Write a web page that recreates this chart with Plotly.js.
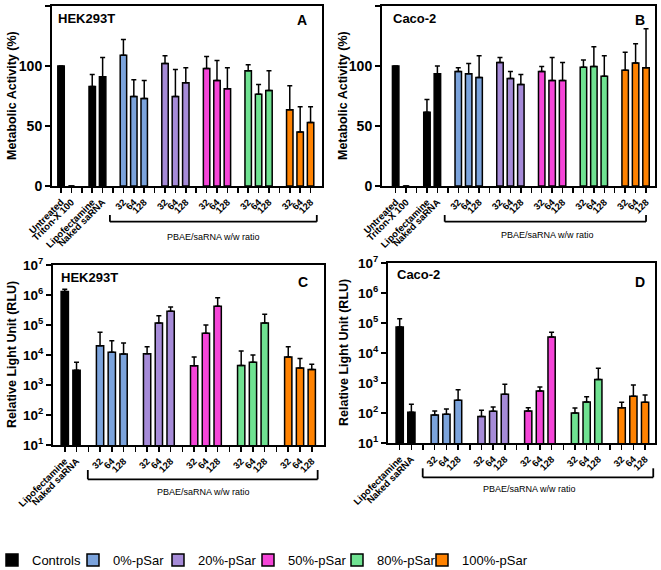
<!DOCTYPE html>
<html>
<head>
<meta charset="utf-8">
<script src="https://cdn.plot.ly/plotly-3.0.1.min.js"></script>
<style>html,body{margin:0;padding:0;background:#fff;}#chart{width:661px;height:570px;}</style>
</head>
<body>
<div id="chart"></div>
<script>
// ---------- data ----------
const groups = ["0%-pSar", "20%-pSar", "50%-pSar", "80%-pSar", "100%-pSar"];
const ratios = ["32", "64", "128"];
const ctrlLabelsAB = ["Untreated", "Triton-X 100", "Lipofectamine", "Naked saRNA"];
const ctrlLabelsCD = ["Lipofectamine", "Naked saRNA"];
const bracketLabel = "PBAE/saRNA w/w ratio";

// Panel A: HEK293T metabolic activity (%), mean and SD (upper bar)
const A_ctrl = [100, 0, 83, 91];
const A_ctrl_sd = [0, 0, 10, 16];
const A_0 = [109, 74.5, 73];     const A_0_sd = [13, 14, 15];
const A_20 = [102, 74.5, 86];    const A_20_sd = [6.5, 22.5, 12.5];
const A_50 = [98, 88, 81];       const A_50_sd = [10, 16.5, 17.5];
const A_80 = [96, 76.5, 79.5];   const A_80_sd = [5, 8, 16.5];
const A_100 = [63.5, 45, 53];    const A_100_sd = [20, 21, 13];

// Panel B: Caco-2 metabolic activity (%)
const B_ctrl = [100, 0, 61.5, 93.5];
const B_ctrl_sd = [0, 0, 10.5, 6.5];
const B_0 = [95.5, 93.5, 90.5];  const B_0_sd = [3, 8.5, 18];
const B_20 = [103, 89.5, 84.5];  const B_20_sd = [4, 6, 8.5];
const B_50 = [95.5, 88, 88];     const B_50_sd = [4, 19, 15];
const B_80 = [99, 99.5, 91.5];   const B_80_sd = [6, 16.5, 17];
const B_100 = [96.5, 102.5, 98.5]; const B_100_sd = [15, 16, 32.5];

// Panel C: HEK293T luciferase (RLU)
const C_ctrl = [1.3e6, 3.1e3];   const C_ctrl_sd = [2.5e5, 2.6e3];
const C_0 = [2.05e4, 1.23e4, 1.07e4]; const C_0_sd = [3.65e4, 1.77e4, 1.43e4];
const C_20 = [1.1e4, 1.17e5, 2.9e5];  const C_20_sd = [8e3, 8.8e4, 1.1e5];
const C_50 = [4.4e3, 5.3e4, 4.2e5];   const C_50_sd = [4.1e3, 4.7e4, 3.9e5];
const C_80 = [4.5e3, 5.7e3, 1.17e5];  const C_80_sd = [9e3, 4.3e3, 1.13e5];
const C_100 = [8.5e3, 3.7e3, 3.3e3];  const C_100_sd = [1.05e4, 4e3, 1.6e3];

// Panel D: Caco-2 luciferase (RLU)
const D_ctrl = [7.4e4, 105];     const D_ctrl_sd = [6.4e4, 90];
const D_0 = [86, 90, 265];       const D_0_sd = [31, 46, 335];
const D_20 = [77, 114, 420];     const D_20_sd = [46, 44, 480];
const D_50 = [117, 540, 3.4e4];  const D_50_sd = [33, 195, 1.5e4];
const D_80 = [100, 232, 1320];   const D_80_sd = [47, 118, 1780];
const D_100 = [150, 360, 227];   const D_100_sd = [77, 500, 173];

const logTickVals = [1e1, 1e2, 1e3, 1e4, 1e5, 1e6, 1e7];
const logTickText = ["10<sup>1</sup>", "10<sup>2</sup>", "10<sup>3</sup>", "10<sup>4</sup>", "10<sup>5</sup>", "10<sup>6</sup>", "10<sup>7</sup>"];

// ---------- style ----------
const colors = {
  "Controls": "#000000",
  "0%-pSar": "#7ba3dc",
  "20%-pSar": "#a68bd8",
  "50%-pSar": "#f545d8",
  "80%-pSar": "#6fe291",
  "100%-pSar": "#ff8200"
};
const legendNames = ["Controls"].concat(groups);
const legendLeftPx = [-8, 73, 158, 248, 337, 422];   // left of each legend entry
const FONT = "Liberation Sans, Arial, sans-serif";
const BARW = 0.62;

// category layout: controls (with a gap after "Triton-X 100" in A/B), then groups of 3 separated by gaps
function buildCats(ctrlLabels, gapAfterIndex) {
  const keys = [], text = [];
  ctrlLabels.forEach((c, i) => {
    keys.push("ctrl|" + c); text.push(c);
    if (i === gapAfterIndex) { keys.push("gap|c"); text.push(""); }
  });
  groups.forEach(g => {
    keys.push("gap|" + g); text.push("");
    ratios.forEach(r => { keys.push(g + "|" + r); text.push(r); });
  });
  return {keys, text};
}
const catsAB = buildCats(ctrlLabelsAB, 1);
const catsCD = buildCats(ctrlLabelsCD, -1);

const legendId = name => {
  const i = legendNames.indexOf(name);
  return i === 0 ? "legend" : "legend" + (i + 1);
};

function panelTraces(cats, xa, ya, ctrl, ctrlSd, ctrlLabels, grpVals, grpSds, showLegend) {
  const traces = [];
  const mk = (name, keys, y, sd) => ({
    type: "bar", name: name, legendgroup: name, showlegend: showLegend,
    legend: legendId(name),
    x: keys.map(k => cats.keys.indexOf(k)), y: y, width: BARW,
    xaxis: xa, yaxis: ya,
    marker: {color: colors[name], line: {color: "#000", width: 1.5}},
    error_y: {type: "data", symmetric: false, array: sd, arrayminus: sd.map(() => 0),
              color: "#000", thickness: 1.5, width: 2.5, visible: true},
    hoverinfo: "x+y"
  });
  traces.push(mk("Controls", ctrlLabels.map(c => "ctrl|" + c), ctrl, ctrlSd));
  groups.forEach((g, i) => traces.push(mk(g, ratios.map(r => g + "|" + r), grpVals[i], grpSds[i])));
  return traces;
}

const data = [].concat(
  panelTraces(catsAB, "x", "y", A_ctrl, A_ctrl_sd, ctrlLabelsAB,
    [A_0, A_20, A_50, A_80, A_100], [A_0_sd, A_20_sd, A_50_sd, A_80_sd, A_100_sd], true),
  panelTraces(catsAB, "x2", "y2", B_ctrl, B_ctrl_sd, ctrlLabelsAB,
    [B_0, B_20, B_50, B_80, B_100], [B_0_sd, B_20_sd, B_50_sd, B_80_sd, B_100_sd], false),
  panelTraces(catsCD, "x3", "y3", C_ctrl, C_ctrl_sd, ctrlLabelsCD,
    [C_0, C_20, C_50, C_80, C_100], [C_0_sd, C_20_sd, C_50_sd, C_80_sd, C_100_sd], false),
  panelTraces(catsCD, "x4", "y4", D_ctrl, D_ctrl_sd, ctrlLabelsCD,
    [D_0, D_20, D_50, D_80, D_100], [D_0_sd, D_20_sd, D_50_sd, D_80_sd, D_100_sd], false)
);

const W = 661, H = 570;
const px = v => v / W, py = v => (H - v) / H;

function xAxis(domain, range, cats, anchor) {
  const labelled = [], labels = [], gaps = [];
  cats.keys.forEach((k, i) => {
    if (cats.text[i] === "") gaps.push(i); else { labelled.push(i); labels.push(cats.text[i]); }
  });
  return {
    domain: domain, range: range, anchor: anchor, type: "linear",
    tickmode: "array", tickvals: labelled, ticktext: labels,
    tickangle: -45, ticks: "outside", ticklen: 5, tickwidth: 1.5, tickcolor: "#000",
    tickfont: {family: FONT, size: 9.5, color: "#000", weight: "bold"},
    minor: {tickmode: "array", tickvals: gaps, ticks: "outside", ticklen: 5, tickwidth: 1.5, tickcolor: "#000", showgrid: false},
    showline: true, linecolor: "#000", linewidth: 2, mirror: true,
    showgrid: false, zeroline: false, fixedrange: true
  };
}
function yLin(domain, anchor) {
  return {
    domain: domain, range: [0, 150], anchor: anchor, tickvals: [0, 50, 100, 150],
    ticks: "outside", ticklen: 5, tickwidth: 1.5, tickcolor: "#000",
    tickfont: {family: FONT, size: 14, color: "#000", weight: "bold"},
    showline: true, linecolor: "#000", linewidth: 2, mirror: true,
    showgrid: false, zeroline: false, fixedrange: true
  };
}
function yLog(domain, anchor) {
  return {
    domain: domain, type: "log", range: [1, 7], anchor: anchor,
    tickmode: "array", tickvals: logTickVals, ticktext: logTickText,
    ticks: "outside", ticklen: 5, tickwidth: 1.5, tickcolor: "#000",
    tickfont: {family: FONT, size: 13.5, color: "#000", weight: "bold"},
    showline: true, linecolor: "#000", linewidth: 2, mirror: true,
    showgrid: false, zeroline: false, fixedrange: true
  };
}

const ann = [];
const addText = (text, x, y, size, bold, xanchor, angle) => ann.push({
  text: text, x: px(x), y: py(y), xref: "paper", yref: "paper", showarrow: false,
  xanchor: xanchor || "center", yanchor: "middle", textangle: angle || 0,
  font: {family: FONT, size: size, color: "#000", weight: bold ? "bold" : "normal"}
});
addText("HEK293T", 56, 19, 13, true, "left");
addText("A", 302, 20, 14, true);
addText("Caco-2", 391, 19, 13, true, "left");
addText("B", 640, 20, 14, true);
addText("HEK293T", 59, 277, 13, true, "left");
addText("C", 303, 282, 14, true);
addText("Caco-2", 395, 275, 13, true, "left");
addText("D", 640, 282, 14, true);
addText("Metabolic Activity (%)", 12, 96, 12.5, true, "center", -90);
addText("Metabolic Activity (%)", 343, 96, 12.5, true, "center", -90);
addText("Relative Light Unit (RLU)", 12, 355, 12.5, true, "center", -90);
addText("Relative Light Unit (RLU)", 344, 353, 12.5, true, "center", -90);
addText(bracketLabel, 213, 237, 9, false);
addText(bracketLabel, 547, 235, 9, false);
addText(bracketLabel, 203, 492, 9, false);
addText(bracketLabel, 529, 489, 9, false);

const shapes = [];
function bracket(xref, x0, x1, yBar, yTop) {
  const ln = {color: "#000", width: 1.8};
  shapes.push({type: "line", xref: xref, yref: "paper", x0: x0, x1: x1, y0: py(yBar), y1: py(yBar), line: ln});
  shapes.push({type: "line", xref: xref, yref: "paper", x0: x0, x1: x0, y0: py(yBar), y1: py(yTop), line: ln});
  shapes.push({type: "line", xref: xref, yref: "paper", x0: x1, x1: x1, y0: py(yBar), y1: py(yTop), line: ln});
}
bracket("x", 4.7, 24.6, 221.7, 215);
bracket("x2", 4.7, 24.0, 221.7, 215);
bracket("x3", 1.96, 21.5, 479.3, 470);
bracket("x4", 1.97, 21.7, 477.3, 468.3);

const layout = {
  width: W, height: H,
  margin: {l: 0, r: 0, t: 0, b: 0, autoexpand: false},
  paper_bgcolor: "#fff", plot_bgcolor: "#fff",
  font: {family: FONT, color: "#000"},
  barmode: "overlay",
  xaxis: xAxis([px(52), px(322)], [-0.87, 25.1], catsAB, "y"),
  yaxis: yLin([py(186), py(6)], "x"),
  xaxis2: xAxis([px(382), px(655)], [-1.31, 24.86], catsAB, "y2"),
  yaxis2: yLin([py(186), py(6)], "x2"),
  xaxis3: xAxis([px(53), px(324)], [-1.0, 22.04], catsCD, "y3"),
  yaxis3: yLog([py(445), py(265)], "x3"),
  xaxis4: xAxis([px(388), px(655)], [-1.0, 21.85], catsCD, "y4"),
  yaxis4: yLog([py(443), py(263)], "x4"),
  showlegend: true,
  annotations: ann,
  shapes: shapes
};
legendNames.forEach((name, i) => {
  layout[legendId(name)] = {
    orientation: "h", x: legendLeftPx[i] / W, xanchor: "left", y: py(560), yanchor: "middle",
    font: {family: FONT, size: 13, color: "#000"},
    bgcolor: "rgba(0,0,0,0)", borderwidth: 0, itemclick: false, itemdoubleclick: false
  };
});

Plotly.newPlot("chart", data, layout, {displayModeBar: false, staticPlot: true});
</script>
</body>
</html>
